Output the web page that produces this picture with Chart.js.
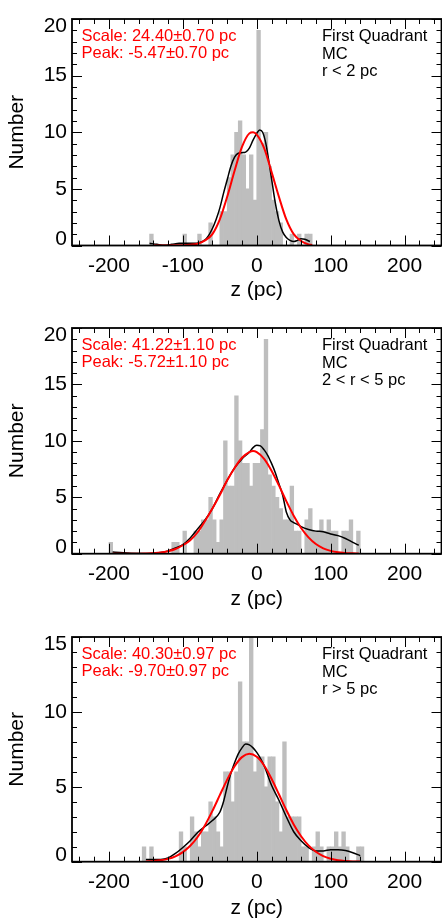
<!DOCTYPE html>
<html>
<head>
<meta charset="utf-8">
<script src="https://cdn.jsdelivr.net/npm/chart.js@4.4.1/dist/chart.umd.min.js"></script>
<style>
html,body{margin:0;padding:0;background:#fff;overflow:hidden;width:442px;height:919px;position:relative}
canvas{position:absolute;left:0}
</style>
</head>
<body>
<canvas id="c1" width="442" height="309" style="top:0px"></canvas>
<canvas id="c2" width="442" height="309" style="top:309px"></canvas>
<canvas id="c3" width="442" height="309" style="top:618px"></canvas>
<script>
// ---------------- data ----------------
const binStart = [-200,-195,-190,-185,-180,-175,-170,-165,-160,-155,-150,-145,-140,-135,-130,-125,-120,-115,-110,-105,-100,-95,-90,-85,-80,-75,-70,-65,-60,-55,-50,-45,-40,-35,-30,-25,-20,-15,-10,-5,0,5,10,15,20,25,30,35,40,45,50,55,60,65,70,75,80,85,90,95,100,105,110,115,120,125,130,135,140];
const binWidth = 5;

const countsP1 = [0,0,0,0,0,0,0,0,0,0,0,1,0,0,0,0,0,0,0,0,1,0,0,0,1,0,0,2,0,0,3,3,6,8,10,11,8,5,8,4,19,9,10,7,4,3,2,0,0,1,0,1,0,1,1,0,0,0,0,0,0,0,0,0,0,0,0,0,0];
const countsP2 = [1,0,0,0,0,0,0,0,0,0,0,0,0,0,0,0,0,1,1,0,2,0,0,2,2,3,3,5,3,1,3,10,6,6,14,10,8,8,6,8,8,11,19,7,6,5,4,3,3,6,2,2,0,3,4,2,2,3,2,3,2,2,0,2,2,3,0,2,0];
const countsP3 = [0,0,0,0,0,0,0,0,0,1,0,1,0,0,0,0,0,0,0,2,1,0,3,2,1,2,2,4,3,2,1,6,6,4,6,12,8,8,15,6,7,7,5,7,7,4,2,8,3,3,3,3,1,1,0,1,2,1,0,1,1,2,1,2,1,0,0,1,1];

// smoothed (black) curves
const kdeZP1 = [-145,-135,-125,-115,-105,-95,-85,-78,-70,-65,-60,-55,-50,-45,-40,-35,-30,-25,-20,-15,-10,-5,0,4,8,12,16,20,25,30,35,40,45,50,55,60,65,72];
const kdeYP1 = [0.2,0.1,0.02,0.1,0.2,0.2,0.2,0.25,0.5,0.9,1.5,2.3,3.3,4.6,5.8,7.0,7.8,8.15,8.2,8.25,8.6,9.3,9.9,10.2,10.0,9.1,7.6,5.9,3.8,2.2,1.2,0.7,0.45,0.35,0.45,0.6,0.55,0.35];
const kdeZP2 = [-195,-185,-170,-150,-130,-120,-110,-100,-90,-80,-70,-60,-50,-40,-30,-20,-10,-5,0,5,10,15,20,25,30,35,40,45,50,55,60,70,80,90,100,110,120,130,138];
const kdeYP2 = [0.15,0.1,0.03,0.02,0.1,0.25,0.5,0.8,1.4,2.2,3.0,4.0,5.3,6.5,7.6,8.4,9.0,9.4,9.6,9.55,9.2,8.7,8.0,7.2,6.2,5.2,3.7,3.0,2.75,2.6,2.4,2.15,2.0,1.95,1.75,1.6,1.35,1.0,0.75];
const kdeZP3 = [-150,-140,-130,-120,-110,-100,-90,-80,-70,-60,-50,-45,-40,-35,-30,-25,-20,-15,-10,-5,0,5,10,20,30,40,50,60,70,80,90,100,110,120,130,140];
const kdeYP3 = [0.15,0.15,0.15,0.25,0.55,0.95,1.4,1.95,2.35,2.75,3.3,4.0,5.0,5.9,6.6,7.2,7.6,7.85,7.8,7.6,7.3,6.9,6.4,5.1,4.1,3.0,2.0,1.4,0.95,0.72,0.72,0.8,0.8,0.75,0.6,0.4];

// fitted (red) curves
const fitZP1 = [-140,-120,-100,-90,-80,-70,-60,-50,-40,-30,-20,-10,-5,0,10,20,30,40,50,60,70,75];
const fitYP1 = [0,0.01,0.03,0.07,0.15,0.45,1.0,2.3,4.3,6.6,8.7,9.9,10,9.8,8.6,6.5,4.3,2.3,1.0,0.4,0.1,0.05];
const fitZP2 = [-195,-170,-150,-130,-120,-110,-100,-90,-80,-70,-60,-50,-40,-30,-20,-10,-5,0,10,20,30,40,50,60,70,80,90,100,110,120,130,138];
const fitYP2 = [0,0,0.02,0.1,0.22,0.42,0.75,1.2,1.9,2.9,4.0,5.2,6.5,7.6,8.5,9.0,9.1,9.0,8.41,7.36,6.05,4.66,3.37,2.28,1.45,0.86,0.48,0.25,0.12,0.06,0.03,0.01];
const fitZP3 = [-150,-140,-130,-120,-110,-100,-90,-80,-70,-60,-50,-40,-30,-20,-10,0,10,20,30,40,50,60,70,80,90,100,110,120,130,140];
const fitYP3 = [0.02,0.05,0.1,0.19,0.36,0.64,1.06,1.65,2.44,3.39,4.44,5.48,6.37,6.98,7.2,7.0,6.42,5.54,4.5,3.45,2.49,1.7,1.09,0.66,0.37,0.2,0.1,0.05,0.02,0.01];

const xMajorTicks = [-200,-100,0,100,200];
const xMinorTicks = [-240,-220,-180,-160,-140,-120,-80,-60,-40,-20,20,40,60,80,120,140,160,180,220,240];
const yMaxP1 = 20, yMaxP2 = 20, yMaxP3 = 15;

const scaleTextP1 = ['Scale: 24.40\u00b10.70 pc', 'Peak: -5.47\u00b10.70 pc'];
const scaleTextP2 = ['Scale: 41.22\u00b11.10 pc', 'Peak: -5.72\u00b11.10 pc'];
const scaleTextP3 = ['Scale: 40.30\u00b10.97 pc', 'Peak: -9.70\u00b10.97 pc'];
const labelTextP1 = ['First Quadrant', 'MC', 'r < 2 pc'];
const labelTextP2 = ['First Quadrant', 'MC', '2 < r < 5 pc'];
const labelTextP3 = ['First Quadrant', 'MC', 'r > 5 pc'];

// ---------------- drawing ----------------
const FONT = '"Liberation Sans", Arial, Helvetica, sans-serif';
Chart.defaults.font.family = FONT;

const framePlugin = {
  id: 'frameTicks',
  afterDraw(chart) {
    const {ctx, chartArea: a, scales: {x, y}} = chart;
    ctx.save();
    ctx.strokeStyle = '#000';
    ctx.lineWidth = 1;
    ctx.beginPath();
    const xt = (v, len) => {
      const p = Math.round(x.getPixelForValue(v)) + 0.5;
      ctx.moveTo(p, a.bottom); ctx.lineTo(p, a.bottom - len);
      ctx.moveTo(p, a.top); ctx.lineTo(p, a.top + len);
    };
    xMajorTicks.forEach(v => xt(v, 10));
    xMinorTicks.forEach(v => xt(v, 5));
    const ymax = y.max;
    for (let v = 0; v <= ymax; v += 1) {
      const len = (v % 5 === 0) ? 10 : 5;
      const p = Math.round(y.getPixelForValue(v)) + 0.5;
      ctx.moveTo(a.left, p); ctx.lineTo(a.left + len, p);
      ctx.moveTo(a.right, p); ctx.lineTo(a.right - len, p);
    }
    ctx.stroke();
    ctx.lineWidth = 1.8;
    ctx.strokeRect(a.left, a.top, a.right - a.left, a.bottom - a.top);
    ctx.restore();
  }
};

const textPlugin = {
  id: 'panelText',
  afterDraw(chart, args, opts) {
    const {ctx, chartArea: a} = chart;
    ctx.save();
    ctx.font = '16.5px ' + FONT;
    ctx.textBaseline = 'middle';
    ctx.textAlign = 'left';
    ctx.fillStyle = '#ff0000';
    opts.red.forEach((t, i) => ctx.fillText(t, a.left + 9.5, a.top + 17.5 + i * 17.3));
    ctx.fillStyle = '#000';
    opts.black.forEach((t, i) => ctx.fillText(t, a.left + 250, a.top + 17.8 + i * 17.5));
    ctx.restore();
  }
};

function makePanel(id, counts, kdeZ, kdeY, fitZ, fitY, ymax, redText, blackText, plotHeight) {
  const hist = binStart.map((s, i) => ({x: s + binWidth / 2, y: counts[i]}));
  const kde = kdeZ.map((z, i) => ({x: z, y: kdeY[i]}));
  const fit = fitZ.map((z, i) => ({x: z, y: fitY[i]}));
  new Chart(document.getElementById(id), {
    type: 'bar',
    data: {
      datasets: [
        {type: 'line', data: fit, borderColor: '#ff0000', borderWidth: 2, pointRadius: 0,
         cubicInterpolationMode: 'monotone', fill: false, order: 1},
        {type: 'line', data: kde, borderColor: '#000000', borderWidth: 1.5, pointRadius: 0,
         cubicInterpolationMode: 'monotone', fill: false, order: 2},
        {type: 'bar', data: hist, backgroundColor: 'rgb(190,190,190)', borderWidth: 0,
         barPercentage: 1, categoryPercentage: 1, grouped: false, order: 3}
      ]
    },
    options: {
      responsive: false,
      animation: false,
      devicePixelRatio: 1,
      layout: {padding: {top: 7, left: 0, right: 0.5, bottom: 0}},
      plugins: {
        legend: {display: false},
        tooltip: {enabled: false},
        panelText: {red: redText, black: blackText}
      },
      scales: {
        x: {
          type: 'linear', min: -250, max: 250, offset: false,
          grid: {display: false, drawTicks: false},
          border: {display: false},
          ticks: {maxRotation: 0, autoSkip: false,
                  color: '#000', padding: 8, font: {size: 21}},
          afterBuildTicks(s) { s.ticks = xMajorTicks.map(v => ({value: v})); },
          title: {display: true, text: 'z (pc)', color: '#000', font: {size: 21},
                  padding: {top: 0, bottom: 6}},
          afterFit(s) { s.height = 309 - 7 - plotHeight; }
        },
        y: {
          type: 'linear', min: 0, max: ymax,
          grid: {display: false, drawTicks: false},
          border: {display: false},
          ticks: {
            stepSize: 5, color: '#000', padding: 5,
            font: (c) => ({size: 21, lineHeight: (c.tick && c.tick.value === 0) ? '13px' :
                                       (c.tick && c.tick.value === ymax) ? '14px' : 1.2}),
            callback: (v) => v === 0 ? ['0', ''] : (v === ymax ? ['', String(v)] : String(v))
          },
          title: {display: true, text: 'Number', color: '#000', font: {size: 21},
                  padding: {top: 5, bottom: 0}},
          afterFit(s) { s.width = 72; }
        }
      }
    },
    plugins: [framePlugin, textPlugin]
  });
}

makePanel('c1', countsP1, kdeZP1, kdeYP1, fitZP1, fitYP1, yMaxP1, scaleTextP1, labelTextP1, 238.5);
makePanel('c2', countsP2, kdeZP2, kdeYP2, fitZP2, fitYP2, yMaxP2, scaleTextP2, labelTextP2, 237.7);
makePanel('c3', countsP3, kdeZP3, kdeYP3, fitZP3, fitYP3, yMaxP3, scaleTextP3, labelTextP3, 236.7);
</script>
</body>
</html>
